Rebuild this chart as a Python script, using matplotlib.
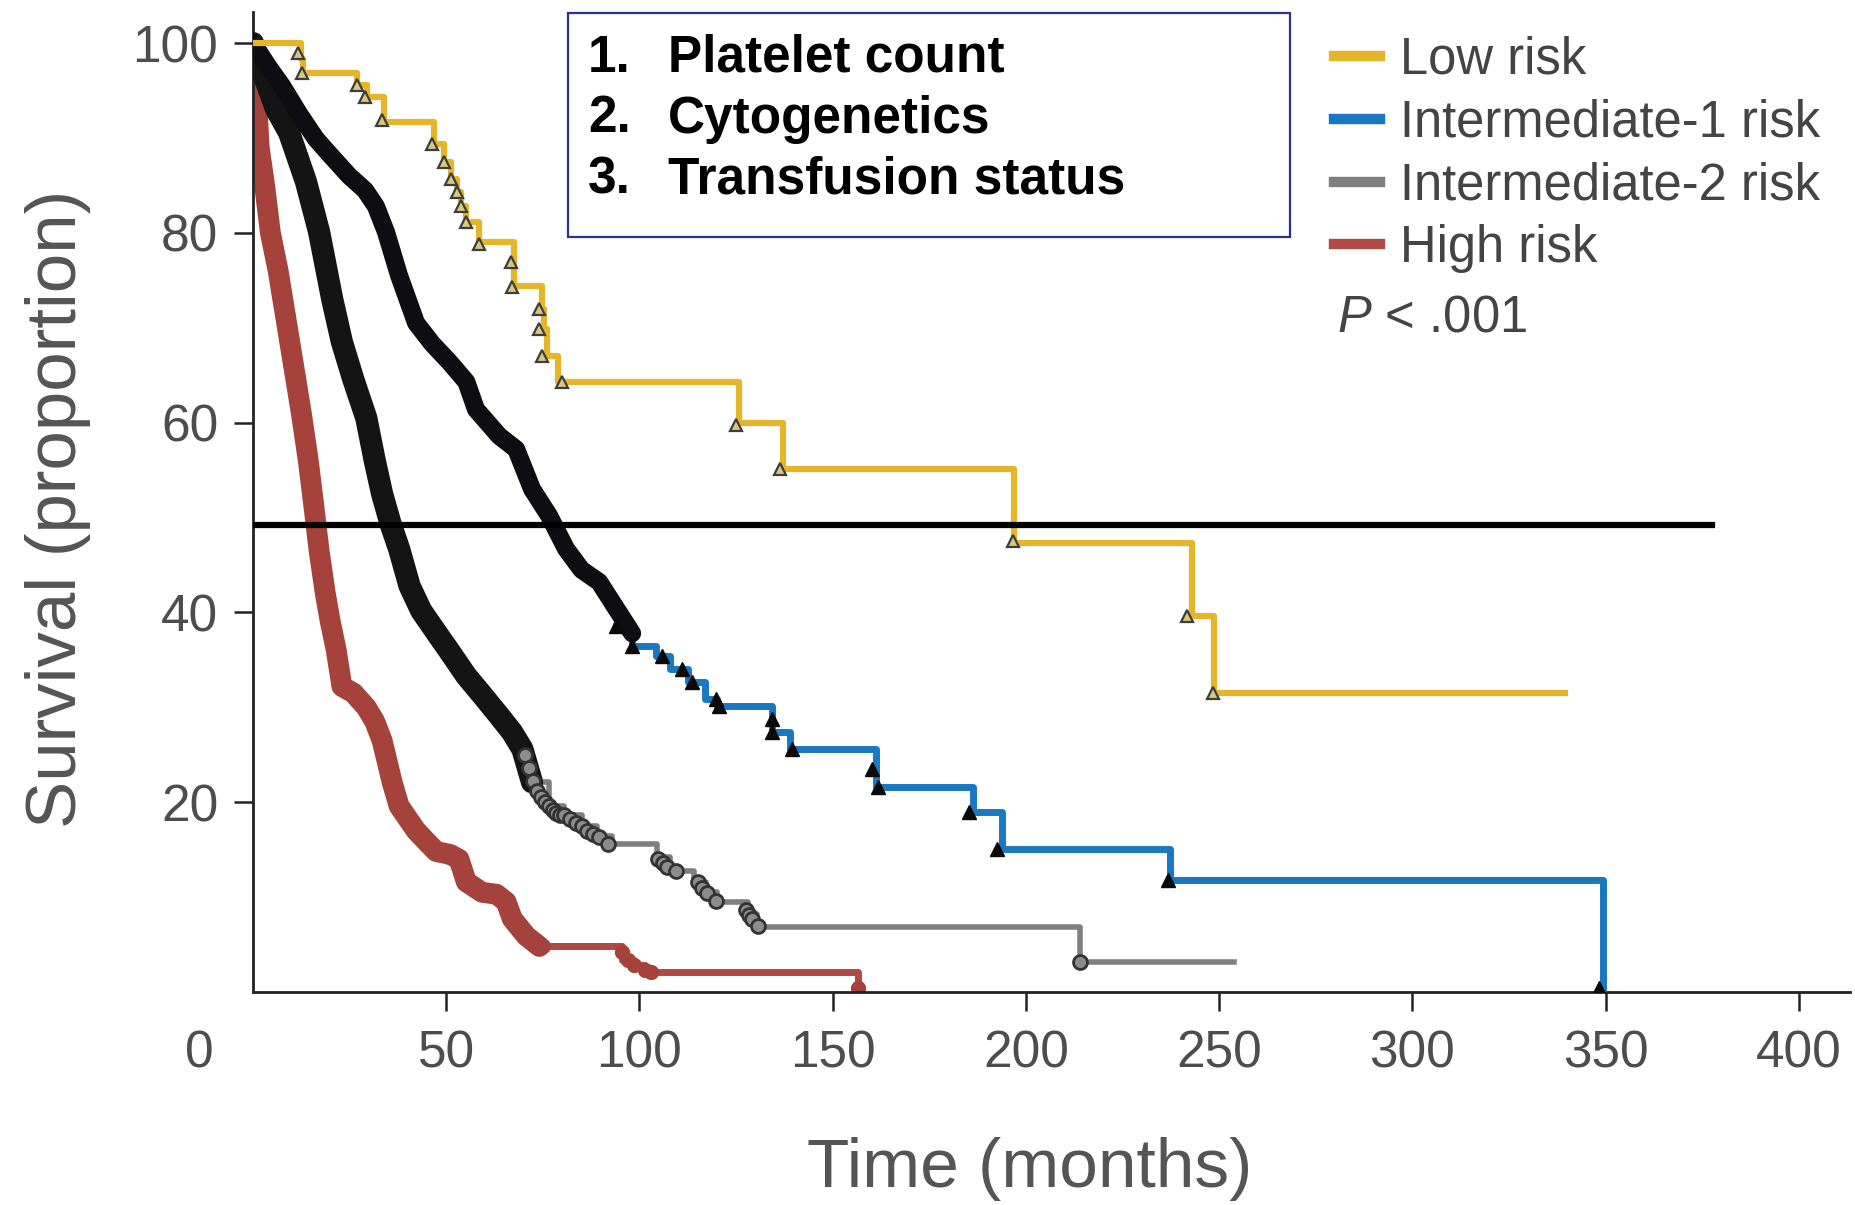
import matplotlib
matplotlib.use("Agg")
import matplotlib.pyplot as plt
from matplotlib.lines import Line2D
from matplotlib.patches import Rectangle
from matplotlib.transforms import ScaledTranslation

plt.rcParams['font.family'] = ['Liberation Sans', 'DejaVu Sans']
plt.rcParams['mathtext.fontset'] = 'custom'
plt.rcParams['mathtext.rm'] = 'Liberation Sans'
plt.rcParams['mathtext.it'] = 'Liberation Sans:italic'

# ----- data (months, % surviving) ----- #
groups = ['Low risk', 'Intermediate-1 risk', 'Intermediate-2 risk', 'High risk']
group_colors = ['#e6b62a', '#1a78c2', '#7f7f7f', '#b04a44']

low_t = [0, 12.3, 13.0, 27.0, 29.5, 34.0, 46.9, 49.5, 51.3, 52.9, 53.8, 55.2, 58.5,
         67.6, 74.8, 75.3, 76.0, 79.0, 125.8, 137.2, 196.9, 242.9, 248.7, 339.4]
low_s = [100, 98.3, 96.8, 95.6, 94.3, 91.7, 89.4, 87.5, 85.7, 84.3, 82.8, 81.1, 79.0,
         74.4, 72.0, 69.9, 67.0, 64.3, 60.0, 55.1, 47.3, 39.6, 31.5, 31.5]
low_cens_t = [11.6, 12.6, 27.0, 29.1, 33.5, 46.4, 49.5, 51.3, 52.9, 53.8, 55.2, 58.5,
              66.8, 67.0, 74.1, 74.1, 74.8, 80.0, 125.1, 136.3, 196.6, 241.7, 248.4]
low_cens_s = [99.0, 96.9, 95.6, 94.3, 91.9, 89.4, 87.5, 85.7, 84.3, 82.8, 81.1, 78.8,
              76.9, 74.3, 72.0, 69.9, 67.0, 64.3, 59.8, 55.1, 47.5, 39.6, 31.5]

# early part of int-1: censor ticks so dense they merge into a black band
int1_band_t = [0, 4.0, 7.5, 12.0, 16.3, 20.0, 24.9, 29.0, 31.8, 34.4, 37.8, 42.2, 46.4,
               50.8, 55.2, 57.7, 63.7, 68.1, 72.2, 76.6, 81.0, 85.0, 89.6, 94.0, 98.1]
int1_band_s = [100, 97.5, 95.5, 92.5, 89.9, 88.2, 86.0, 84.5, 82.8, 80.1, 75.5, 70.5, 68.3,
               66.4, 64.3, 61.4, 58.6, 57.2, 53.0, 50.2, 46.7, 44.5, 43.2, 40.4, 37.8]
int1_t = [94.0, 98.1, 104.3, 108.0, 112.5, 117.0, 120.0, 134.4, 139.0, 161.3, 186.2,
          193.9, 237.4, 349.3]
int1_s = [38.6, 36.5, 35.4, 34.0, 32.7, 30.9, 30.1, 27.4, 25.6, 21.6, 19.0,
          15.1, 11.8, 0.0]
int1_cens_t = [94.0, 98.1, 105.9, 111.1, 113.7, 119.9, 120.7, 134.4, 134.4, 139.6,
               160.3, 161.6, 185.4, 192.6, 236.7, 348.3]
int1_cens_s = [38.6, 36.5, 35.4, 34.0, 32.7, 30.9, 30.1, 28.8, 27.4, 25.6,
               23.5, 21.6, 19.0, 15.1, 11.8, 0.4]

int2_band_t = [0, 3.4, 6.0, 9.3, 13.7, 17.1, 20.5, 23.0, 26.0, 29.3, 31.5, 33.4, 35.7,
               37.8, 40.5, 43.5, 47.4, 51.0, 55.2, 59.5, 63.7, 67.0, 69.7, 72.2]
int2_band_s = [100, 95.9, 93.0, 90.6, 85.4, 80.1, 73.0, 68.5, 64.5, 60.5, 56.0, 52.5, 49.2,
               46.7, 42.8, 40.2, 37.9, 35.8, 33.3, 31.2, 29.1, 27.4, 25.6, 22.1]
int2_t = [72.2, 76.6, 80.5, 85.2, 89.0, 93.0, 104.5, 108.0, 114.0, 117.3, 120.0,
          128.0, 130.5, 213.9, 253.8]
int2_s = [22.1, 19.6, 18.6, 17.5, 16.4, 15.6, 14.2, 12.8, 11.6, 10.5, 9.5,
          8.2, 6.8, 3.2, 3.2]
int2_cens_t = [70.5, 71.5, 72.5, 73.5, 74.5, 75.5, 76.5, 77.5, 78.5, 79.5, 80.5, 82.0,
               83.5, 85.2, 86.5, 88.0, 89.5, 91.8, 104.8, 106.0, 107.2, 109.5, 115.2,
               116.3, 117.5, 119.8, 127.6, 128.3, 129.0, 130.6, 213.9]
int2_cens_s = [25.0, 23.6, 22.2, 21.2, 20.5, 20.0, 19.6, 19.2, 18.9, 18.7, 18.6, 18.2,
               17.8, 17.5, 17.0, 16.6, 16.3, 15.6, 14.0, 13.6, 13.2, 12.7, 11.6,
               11.0, 10.4, 9.6, 8.6, 8.1, 7.7, 6.9, 3.2]

high_band_t = [0, 0.8, 1.6, 3.0, 4.5, 6.5, 8.5, 10.5, 12.5, 14.3, 15.8, 17.1, 18.7, 20.0,
               21.5, 23.0, 26.0, 29.3, 31.5, 33.4, 36.0, 37.8, 40.0, 42.2, 45.0, 47.4,
               51.0, 53.3, 55.2, 59.3, 63.0, 65.5, 67.1, 70.7, 74.1]
high_band_s = [100, 95, 89, 85, 80, 76, 71, 66, 61, 56, 51, 46.5, 42, 39,
               36.1, 32.2, 31.5, 30.0, 28.5, 26.5, 22.1, 19.6, 18.3, 17.0, 15.8, 14.8,
               14.5, 14.0, 11.6, 10.5, 10.3, 9.5, 7.7, 5.9, 4.8]
high_t = [74.1, 95.5, 98.5, 101.5, 156.5]
high_s = [4.8, 3.4, 2.8, 2.1, 0.0]
high_cens_t = [75.0, 95.5, 97.0, 98.5, 101.5, 103.0, 156.5]
high_cens_s = [4.8, 4.2, 3.4, 2.8, 2.3, 2.1, 0.4]

median_line_y = 49.2
median_line_end = 377.5

box_lines = ['Platelet count', 'Cytogenetics', 'Transfusion status']

x_ticks = [0, 50, 100, 150, 200, 250, 300, 350, 400]
y_ticks = [20, 40, 60, 80, 100]

# ----- figure ----- #
fig = plt.figure(figsize=(18.55, 12.05), dpi=100)
ax = fig.add_axes([0.1364, 0.1768, 0.861, 0.8134])

# high risk
ax.plot(high_band_t, high_band_s, color='#a5423c', lw=15, solid_capstyle='round',
        solid_joinstyle='round', zorder=2)
ax.step(high_t, high_s, where='post', color=group_colors[3], lw=5, zorder=2)
ax.plot(high_cens_t, high_cens_s, 'o', ms=10, color='#a5423c', zorder=2)

# intermediate-2
ax.step(int2_t, int2_s, where='post', color=group_colors[2], lw=4, zorder=3)
ax.plot(int2_band_t, int2_band_s, color='#141414', lw=16, solid_capstyle='round',
        solid_joinstyle='round', zorder=3)
ax.plot(int2_cens_t, int2_cens_s, 'o', ms=10, mfc='#8c8c8c', mec='#333333', mew=2, zorder=3)

# intermediate-1
ax.step(int1_t, int1_s, where='post', color=group_colors[1], lw=5, zorder=4)
ax.plot(int1_band_t, int1_band_s, color='#0d0d12', lw=13, solid_capstyle='round',
        solid_joinstyle='round', zorder=4)
ax.plot(int1_cens_t, int1_cens_s, '^', ms=10, color='#0a0a0a', zorder=4)

# low risk
ax.step(low_t, low_s, where='post', color=group_colors[0], lw=4.5, zorder=5)
ax.plot(low_cens_t, low_cens_s, '^', ms=9, mfc='#d9c67f', mec='#3d3d3d', mew=1.6, zorder=5)

ax.plot([0, median_line_end], [median_line_y, median_line_y], color='black', lw=4.5, zorder=6)

ax.set_xlim(0, 413.3)
ax.set_ylim(0, 103.3)
ax.spines['top'].set_visible(False)
ax.spines['right'].set_visible(False)
for sp in ['left', 'bottom']:
    ax.spines[sp].set_linewidth(2)
    ax.spines[sp].set_color('#222222')

ax.set_xticks(x_ticks)
ax.set_yticks(y_ticks)
ax.tick_params(axis='both', direction='out', length=14, width=1.8, color='#222222',
               labelsize=37, labelcolor='#4d4d4d')
ax.tick_params(axis='x', pad=13)
ax.tick_params(axis='y', pad=11)

# the "0" sits left of the corner, with no tick mark
zero_tick = ax.xaxis.get_major_ticks()[0]
zero_tick.tick1line.set_visible(False)
zero_tick.label1.set_transform(zero_tick.label1.get_transform() +
                               ScaledTranslation(-0.54, 0, fig.dpi_scale_trans))

ax.set_xlabel('Time (months)', fontsize=50, color='#555555', va='center')
ax.xaxis.set_label_coords(0.4865, -0.1806)
ax.set_ylabel('Survival (proportion)', fontsize=51, color='#555555', va='center',
              ha='center', rotation_mode='anchor')
ax.yaxis.set_label_coords(-0.1220, 0.493)

# legend
handles = [Line2D([], [], color=c, lw=7.5) for c in group_colors]
fig.legend(handles, groups, loc='upper left', bbox_to_anchor=(1334 / 1855, (1205 - 36) / 1205),
           frameon=False, fontsize=36.5, handlelength=0.9, handletextpad=0.4,
           labelspacing=0.27, borderpad=0, borderaxespad=0, labelcolor='#444444')
fig.text(1337 / 1855, (1205 - 318) / 1205, r'$\mathit{P}$ < .001', fontsize=36.5,
         color='#444444', va='center', ha='left')

# box with the three risk factors
fig.patches.append(Rectangle((568 / 1855, (1205 - 237) / 1205), (1290 - 568) / 1855,
                             (237 - 13) / 1205, transform=fig.transFigure, fill=False,
                             edgecolor='#2b2f96', lw=1.6, zorder=10))
for i, line in enumerate(box_lines):
    yb = (1205 - (72 + 60.5 * i)) / 1205
    fig.text(588 / 1855, yb, f'{i + 1}.', fontsize=37, fontweight='bold', va='baseline')
    fig.text(668 / 1855, yb, line, fontsize=37, fontweight='bold', va='baseline')

fig.savefig('out.png', dpi=100)
